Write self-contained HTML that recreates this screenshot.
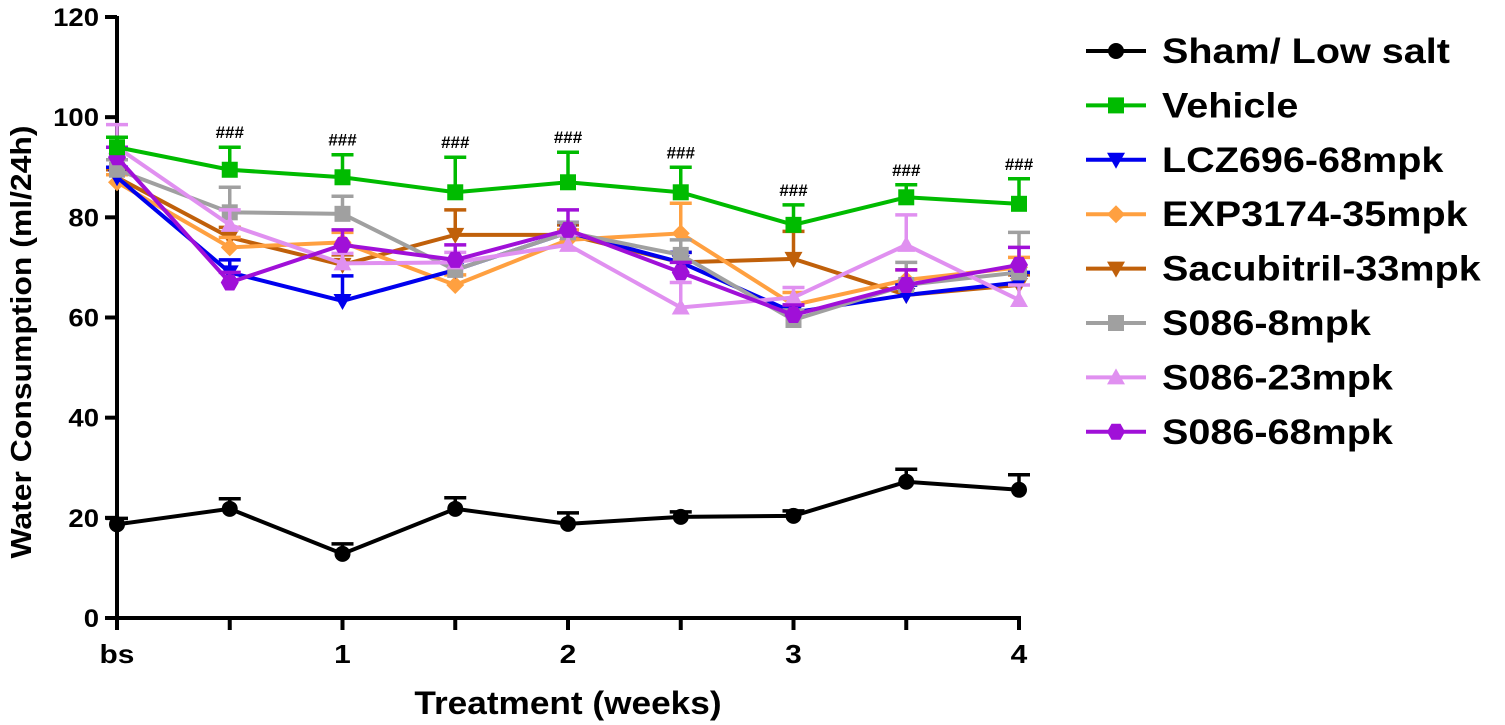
<!DOCTYPE html>
<html><head><meta charset="utf-8"><style>
body{margin:0;background:#fff}
svg{display:block;font-family:"Liberation Sans",sans-serif;font-weight:bold}
</style></head><body>
<svg id="chart" width="1505" height="725" viewBox="0 0 1505 725" xmlns="http://www.w3.org/2000/svg"></svg>
<script>
const xLabels=["bs","","1","","2","","3","","4"];
const yTicks=[0,20,40,60,80,100,120];
const seriesNames=["Sham/ Low salt","Vehicle","LCZ696-68mpk","EXP3174-35mpk","Sacubitril-33mpk","S086-8mpk","S086-23mpk","S086-68mpk"];
const shamVals=[18.7,21.8,12.8,21.8,18.8,20.2,20.4,27.2,25.6];
const shamErr=[1.2,2,2,2.2,2.2,1,1,2.5,3];
const vehicleVals=[94,89.5,88,85,87,85,78.5,84,82.7];
const vehicleErr=[2,4.5,4.5,7,6,5,4,2.5,5];
const lczVals=[88,69,63.3,69.5,77,71,61,64.5,67];
const lczErr=[2,2.5,5,2,2,2,1.5,2,2];
const expVals=[87,74,75,66.5,75.5,76.8,62.5,67.5,70];
const expErr=[1.5,2,2,2,2,6,2.5,2,2];
const sacVals=[88,76,70.5,76.5,76.5,71,71.7,64.5,66.5];
const sacErr=[1.5,2,2,5,2,2,5.5,2,2];
const s8Vals=[89.5,81,80.7,69.5,77,72.5,59.5,66.5,69];
const s8Err=[2,5,3.5,2,2,3,2,4.5,8];
const s23Vals=[94,78.5,70.8,71,74.5,62,64,74.5,63.5];
const s23Err=[4.5,3,2,2,2,5,2,6,3];
const s68Vals=[92,67,74.5,71.5,77.5,69,60.5,66.5,70.5];
const s68Err=[2,2,3,3,4,2,2,3,3.5];
const vehicleSig=["","###","###","###","###","###","###","###","###"];

const NS="http://www.w3.org/2000/svg";
const svg=document.getElementById('chart');
const X0=117,X1=1019,Y0=618,Y1=17;
const xs=i=>X0+i*(X1-X0)/8;
const ys=v=>Y0-(v/120)*(Y0-Y1);
function el(t,a,p){const e=document.createElementNS(NS,t);for(const k in a)e.setAttribute(k,a[k]);(p||svg).appendChild(e);return e;}
function stretch(t,f){const w=t.getComputedTextLength();t.setAttribute('textLength',w*f);t.setAttribute('lengthAdjust','spacingAndGlyphs');}

const ax=el('g',{});


el('line',{x1:X0,y1:Y1-1,x2:X0,y2:Y0+12,stroke:'#000','stroke-width':4},ax);
el('line',{x1:X0-12,y1:Y0,x2:X1+2,y2:Y0,stroke:'#000','stroke-width':4},ax);
yTicks.forEach(v=>{
  el('line',{x1:X0-12,y1:ys(v),x2:X0,y2:ys(v),stroke:'#000','stroke-width':4},ax);
  const t=el('text',{x:X0-18,y:ys(v)+9,'text-anchor':'end','font-size':25},ax);t.textContent=v;
  
  
  stretch(t,1.1);
});
xLabels.forEach((l,i)=>{
  el('line',{x1:xs(i),y1:Y0,x2:xs(i),y2:Y0+12,stroke:'#000','stroke-width':4},ax);
  if(l){const t=el('text',{x:xs(i),y:Y0+45,'text-anchor':'middle','font-size':26},ax);t.textContent=l;
  
  
  stretch(t,1.15);}
});
const xt=el('text',{x:568,y:714,'text-anchor':'middle','font-size':32});xt.textContent="Treatment (weeks)";


stretch(xt,1.1);
const yt=el('text',{x:0,y:0,'text-anchor':'middle','font-size':29,transform:'translate(31,342) rotate(-90)'});yt.textContent="Water Consumption (ml/24h)";


stretch(yt,1.1);

function marker(g,shape,x,y,c){
  const s=8;
  if(shape==='circle')el('circle',{cx:x,cy:y,r:8,fill:c},g);
  else if(shape==='square')el('rect',{x:x-s,y:y-s,width:2*s,height:2*s,fill:c},g);
  else if(shape==='tri-down')el('polygon',{points:`${x-9},${y-7} ${x+9},${y-7} ${x},${y+9}`,fill:c},g);
  else if(shape==='tri-up')el('polygon',{points:`${x-9},${y+7} ${x+9},${y+7} ${x},${y-9}`,fill:c},g);
  else if(shape==='diamond')el('polygon',{points:`${x},${y-9} ${x+9},${y} ${x},${y+9} ${x-9},${y}`,fill:c},g);
  else if(shape==='hex')el('polygon',{points:`${x-4.5},${y-8} ${x+4.5},${y-8} ${x+9},${y} ${x+4.5},${y+8} ${x-4.5},${y+8} ${x-9},${y}`,fill:c},g);
}
const series=[
 [sacVals,sacErr,'#c0600a','tri-down','sacubitril'],
 [expVals,expErr,'#ffa040','diamond','exp3174'],
 [lczVals,lczErr,'#0000ee','tri-down','lcz696'],
 [s8Vals,s8Err,'#a0a0a0','square','s086-8'],
 [s23Vals,s23Err,'#e090f0','tri-up','s086-23'],
 [s68Vals,s68Err,'#a010d8','hex','s086-68'],
 [vehicleVals,vehicleErr,'#00bb00','square','vehicle'],
 [shamVals,shamErr,'#000000','circle','sham']
];
series.forEach(([v,e,c,sh,n])=>{
  const g=el('g',{});
  
  
  v.forEach((d,i)=>{
    const top=ys(d+e[i]);
    el('line',{x1:xs(i),y1:ys(d),x2:xs(i),y2:top,stroke:c,'stroke-width':3.5},g);
    el('line',{x1:xs(i)-11,y1:top,x2:xs(i)+11,y2:top,stroke:c,'stroke-width':3.5},g);
  });
  el('polyline',{points:v.map((d,i)=>xs(i)+','+ys(d)).join(' '),fill:'none',stroke:c,'stroke-width':4},g);
  v.forEach((d,i)=>marker(g,sh,xs(i),ys(d),c));
});
vehicleSig.forEach((s,i)=>{
  if(!s)return;
  const t=el('text',{x:xs(i),y:ys(vehicleVals[i]+vehicleErr[i])-9,'text-anchor':'middle','font-size':17});t.textContent=s;
  
  
});
const legColors=['#000000','#00bb00','#0000ee','#ffa040','#c0600a','#a0a0a0','#e090f0','#a010d8'];
const legShapes=['circle','square','tri-down','diamond','tri-down','square','tri-up','hex'];
seriesNames.forEach((n,i)=>{
  const y=51+i*54.4;
  const g=el('g',{});
  
  
  el('line',{x1:1086,y1:y,x2:1146,y2:y,stroke:legColors[i],'stroke-width':4},g);
  marker(g,legShapes[i],1116,y,legColors[i]);
  const t=el('text',{x:1162,y:y+12,'font-size':35},g);t.textContent=n;
  stretch(t,1.13);
});
</script>
</body></html>
